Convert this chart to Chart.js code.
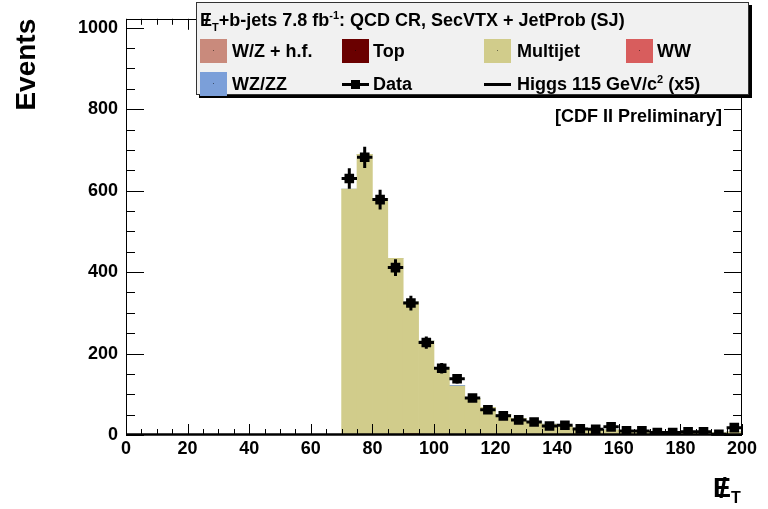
<!DOCTYPE html>
<html>
<head>
<meta charset="utf-8">
<script src="https://cdn.jsdelivr.net/npm/chart.js@4.4.1/dist/chart.umd.min.js"></script>
<style>
html, body { margin: 0; padding: 0; background: #fff; }
#wrap { position: relative; width: 768px; height: 509px; font-family: "Liberation Sans", Arial, sans-serif; font-weight: bold; color: #000; }
#chart { position: absolute; left: 0; top: 0; }
#legend { position: absolute; left: 196px; top: 2px; width: 553px; height: 93px; background: #f1f1f1; border: 1px solid #333; box-shadow: 3px 3px 0 #000; box-sizing: border-box; }
#legend .t { position: absolute; white-space: nowrap; font-size: 18px; line-height: 20px; }
#legend .sw { position: absolute; width: 27px; height: 24px; }
#legend .sw::after { content: ''; position: absolute; left: 13px; top: 11px; width: 1px; height: 1px; background: rgba(0,0,0,0.5); }
#legend .ln { position: absolute; height: 3px; background: #000; }
#legend .mk { position: absolute; width: 9px; height: 9px; background: #000; }
.met { position: relative; display: inline-block; }
.met .sl { position: absolute; left: 1px; top: 0; width: 100%; text-align: center; font-weight: bold; }
sub, sup { line-height: 0; }
#cdf { position: absolute; right: 46px; top: 106px; font-size: 18px; white-space: nowrap; }
#xtitle { position: absolute; left: 713px; top: 473px; font-size: 27px; white-space: nowrap; }
#xtitle sub { font-size: 16px; }
</style>
</head>
<body>
<div id="wrap">
  <canvas id="chart" width="768" height="509"></canvas>
  <div id="legend">
    <div class="t" style="left:3px; top:7px;"><span class="met">E<span class="sl">/</span></span><sub style="font-size:11px">T</sub>+b-jets 7.8 fb<sup style="font-size:11px">-1</sup>: QCD CR, SecVTX + JetProb (SJ)</div>

    <div class="sw" style="left:3px; top:36px; background:#c98a7c;"></div>
    <div class="t" style="left:35px; top:38px;">W/Z + h.f.</div>
    <div class="sw" style="left:145px; top:36px; background:#6a0000;"></div>
    <div class="t" style="left:176px; top:38px;">Top</div>
    <div class="sw" style="left:287px; top:36px; background:#d1cc8b;"></div>
    <div class="t" style="left:320px; top:38px;">Multijet</div>
    <div class="sw" style="left:429px; top:36px; background:#d85d5d;"></div>
    <div class="t" style="left:460px; top:38px;">WW</div>

    <div class="sw" style="left:3px; top:69px; background:#7b9fd9;"></div>
    <div class="t" style="left:35px; top:71px;">WZ/ZZ</div>
    <div class="ln" style="left:145px; top:80px; width:27px;"></div>
    <div class="mk" style="left:154px; top:77px;"></div>
    <div class="t" style="left:176px; top:71px;">Data</div>
    <div class="ln" style="left:287px; top:80px; width:27px;"></div>
    <div class="t" style="left:320px; top:71px;">Higgs 115 GeV/c<sup style="font-size:11px">2</sup> (x5)</div>
  </div>
  <div id="cdf">[CDF II Preliminary]</div>
  <div id="xtitle"><span class="met">E<span class="sl">/</span></span><sub>T</sub></div>
</div>

<script>
// bin centres (GeV), 5 GeV wide bins
const etBins = [72.5, 77.5, 82.5, 87.5, 92.5, 97.5, 102.5, 107.5, 112.5, 117.5, 122.5, 127.5, 132.5,
                137.5, 142.5, 147.5, 152.5, 157.5, 162.5, 167.5, 172.5, 177.5, 182.5, 187.5, 192.5, 197.5];
const binWidth = 5;

const dataCounts = [630, 682, 578, 411, 324, 227, 164, 138, 91, 62, 47, 37, 32,
                    22, 24, 15, 14, 20, 10, 10, 6, 6, 8, 8, 2, 18];
const multijet = [604, 689, 581, 434, 324, 231, 166, 120, 90, 68, 50, 41, 33,
                  27, 22, 17, 15, 13, 11, 10, 9, 8, 7, 6, 6, 8];
const topQuark = [0, 0, 0, 0, 3, 0, 0, 0, 0, 0, 0, 0, 0,
                  0, 0, 0, 0, 0, 0, 0, 0, 0, 0, 0, 0, 0];
const wzzz = [0, 0, 0, 0, 0, 0, 0, 2, 0, 0, 0, 0, 0,
              0, 0, 0, 0, 0, 0, 0, 0, 0, 0, 0, 0, 0];

const xTickValues = [0, 20, 40, 60, 80, 100, 120, 140, 160, 180, 200];
const yTickValues = [0, 200, 400, 600, 800, 1000];
const xMinorStep = 5;
const yMinorStep = 50;

const FONT = '"Liberation Sans", Arial, sans-serif';

function points(values) {
    return etBins.map((x, i) => ({ x: x, y: values[i] }));
}

// ROOT style frame with ticks on all four sides, pointing inwards
const frameTicks = {
    id: 'frameTicks',
    afterDatasetsDraw(chart) {
        const { ctx, chartArea: a, scales: { x, y } } = chart;
        ctx.save();
        ctx.strokeStyle = '#000';
        ctx.lineWidth = 1;
        ctx.beginPath();
        for (let v = x.min; v <= x.max; v += xMinorStep) {
            const px = Math.round(x.getPixelForValue(v)) + 0.5;
            const len = xTickValues.includes(v) ? 11 : 6;
            ctx.moveTo(px, a.bottom); ctx.lineTo(px, a.bottom - len);
            ctx.moveTo(px, a.top); ctx.lineTo(px, a.top + len);
        }
        for (let v = 0; v <= y.max; v += yMinorStep) {
            const py = Math.round(y.getPixelForValue(v)) + 0.5;
            const len = yTickValues.includes(v) ? 18 : 9;
            ctx.moveTo(a.left, py); ctx.lineTo(a.left + len, py);
            ctx.moveTo(a.right, py); ctx.lineTo(a.right - len, py);
        }
        ctx.stroke();
        ctx.strokeRect(Math.round(a.left) + 0.5, Math.round(a.top) + 0.5,
                       Math.round(a.width) - 1, Math.round(a.height) - 1);
        ctx.lineWidth = 2.5;
        ctx.beginPath();
        ctx.moveTo(a.left, a.bottom - 0.5);
        ctx.lineTo(a.right, a.bottom - 0.5);
        ctx.stroke();
        ctx.restore();
    }
};

// sqrt(N) vertical and bin-width horizontal error bars on the data
const errorBars = {
    id: 'errorBars',
    afterDatasetsDraw(chart) {
        const { ctx, scales: { x, y } } = chart;
        ctx.save();
        ctx.strokeStyle = '#000';
        ctx.lineWidth = 3;
        ctx.beginPath();
        etBins.forEach((c, i) => {
            const n = dataCounts[i];
            const err = Math.sqrt(n);
            const px = x.getPixelForValue(c);
            const py = y.getPixelForValue(n);
            ctx.moveTo(x.getPixelForValue(c - binWidth / 2), py);
            ctx.lineTo(x.getPixelForValue(c + binWidth / 2), py);
            ctx.moveTo(px, y.getPixelForValue(n + err));
            ctx.lineTo(px, y.getPixelForValue(Math.max(n - err, 0)));
        });
        ctx.stroke();
        ctx.restore();
    }
};

new Chart(document.getElementById('chart').getContext('2d'), {
    type: 'bar',
    data: {
        datasets: [
            {
                type: 'line',
                label: 'Data',
                data: points(dataCounts),
                stack: 'data',
                showLine: false,
                pointStyle: 'rect',
                pointRadius: 6.8,
                pointBackgroundColor: '#000',
                pointBorderWidth: 0
            },
            {
                label: 'Top',
                data: points(topQuark),
                backgroundColor: '#6a0000',
                stack: 'mc'
            },
            {
                label: 'Multijet',
                data: points(multijet),
                backgroundColor: '#d1cc8b',
                stack: 'mc'
            },
            {
                label: 'WZ/ZZ',
                data: points(wzzz),
                backgroundColor: '#7b9fd9',
                stack: 'mc'
            }
        ]
    },
    options: {
        responsive: false,
        animation: false,
        events: [],
        datasets: {
            bar: { barPercentage: 1, categoryPercentage: 1, borderWidth: 0 }
        },
        layout: { padding: { left: 0, right: 26, top: 15, bottom: 0 } },
        plugins: {
            legend: { display: false },
            tooltip: { enabled: false }
        },
        scales: {
            x: {
                type: 'linear',
                min: 0,
                max: 200,
                offset: false,
                stacked: true,
                afterBuildTicks: s => { s.ticks = xTickValues.map(v => ({ value: v })); },
                afterFit: s => { s.height = 74; },
                grid: { display: false, drawTicks: false },
                border: { display: false },
                ticks: {
                    color: '#000',
                    padding: 3,
                    maxRotation: 0,
                    autoSkip: false,
                    callback: v => String(v),
                    font: { family: FONT, size: 18, weight: 'bold' }
                }
            },
            y: {
                min: 0,
                max: 1022,
                stacked: true,
                afterBuildTicks: s => { s.ticks = yTickValues.map(v => ({ value: v })); },
                afterFit: s => { s.width = 126; },
                grid: { display: false, drawTicks: false },
                border: { display: false },
                ticks: {
                    color: '#000',
                    padding: 8,
                    callback: v => String(v),
                    font: { family: FONT, size: 18, weight: 'bold' }
                },
                title: {
                    display: true,
                    text: 'Events',
                    align: 'end',
                    color: '#000',
                    padding: { top: 10, bottom: 0 },
                    font: { family: FONT, size: 28, weight: 'bold' }
                }
            }
        }
    },
    plugins: [errorBars, frameTicks]
});
</script>
</body>
</html>
